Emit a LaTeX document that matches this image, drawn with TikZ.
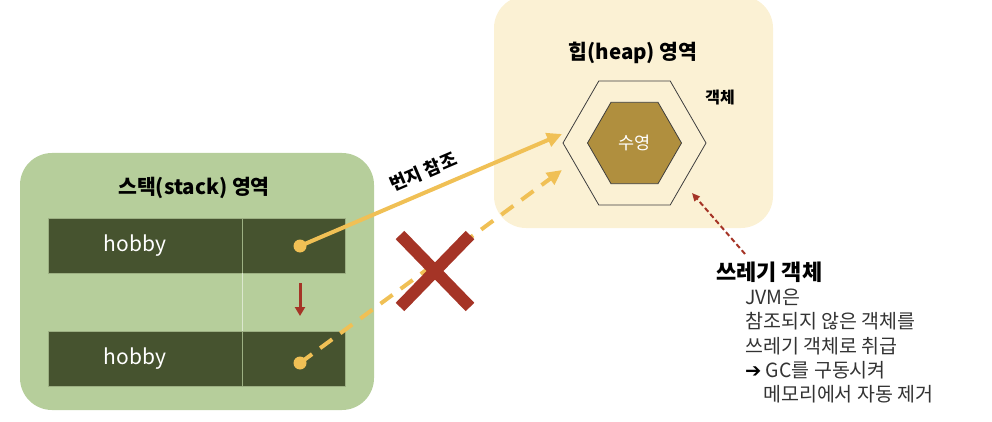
\documentclass[tikz,border=0pt]{standalone}
\usepackage{fontspec}
\setmainfont{Noto Sans CJK KR}
\newfontfamily\arrowfont{DejaVu Sans}
\usetikzlibrary{shapes.geometric,shapes.misc,arrows.meta,positioning}
\definecolor{stackbg}{HTML}{B6CE9B}
\definecolor{heapbg}{HTML}{FBF1D4}
\definecolor{rowdark}{HTML}{46532F}
\definecolor{rowline}{HTML}{9DB083}
\definecolor{gapline}{HTML}{DCE8CF}
\definecolor{hexfill}{HTML}{B08F3E}
\definecolor{hexline}{HTML}{3E3E3E}
\definecolor{refyellow}{HTML}{F0C055}
\definecolor{xred}{HTML}{A53426}
\definecolor{bodygray}{HTML}{333333}
\tikzstyle{areabox} = [rectangle, rounded corners=32pt, inner sep=0pt, outer sep=0pt]
\tikzstyle{areatitle} = [font=\bfseries\fontsize{20.5}{24}\selectfont, text=black]
\tikzstyle{rowcell} = [rectangle, fill=rowdark, draw=rowline, line width=0.8pt,
    inner sep=0pt, minimum height=55pt]
\tikzstyle{celltext} = [text=white, font=\fontsize{21}{24}\selectfont, inner sep=0pt]
\tikzstyle{refdot} = [circle, fill=refyellow, inner sep=0pt, minimum size=13pt]
\tikzstyle{refarrow} = [draw=refyellow, line width=4pt, -{Triangle[length=15pt,width=14pt]}]
\tikzstyle{hexbox} = [regular polygon, regular polygon sides=6, inner sep=0pt, outer sep=0pt]
\tikzstyle{garbarrow} = [draw=xred, line width=2pt, dash pattern=on 5pt off 3pt,
    -{Triangle[length=8pt,width=7pt]}]

\begin{document}
\begin{tikzpicture}[x=1pt, y=-1pt]
    \useasboundingbox (0,0) rectangle (992,422);
    % stack area
    \node[areabox, fill=stackbg, minimum width=354pt, minimum height=257pt] (stack) at (197,281.5) {};
    \node[areatitle] (stacktitle) at (194,188) {스택(stack) 영역};
    \node[rowcell, minimum width=194pt] (nameA) at (145,245.5) {};
    \node[rowcell, minimum width=103pt, right=0pt of nameA] (valA) {};
    \node[rowcell, minimum width=194pt] (nameB) at (145,358.5) {};
    \node[rowcell, minimum width=103pt, right=0pt of nameB] (valB) {};
    \node[celltext] (hobbyA) at ([xshift=-10pt]nameA.center) {hobby};
    \node[celltext] (hobbyB) at ([xshift=-10pt]nameB.center) {hobby};
    \draw[gapline, line width=0.8pt] (valA.south west) -- (valB.north west);
    \node[refdot] (dotA) at (300,246) {};
    \node[refdot] (dotB) at (300,363) {};
    \coordinate (moveA) at (300,283);
    \coordinate (moveB) at (300,316);
    \draw[xred, line width=3pt, -{Triangle[length=9pt,width=10pt]}] (moveA) -- (moveB);

    % heap area
    \node[areabox, fill=heapbg, minimum width=279pt, minimum height=232pt] (heap) at (633.5,112) {};
    \node[areatitle] (heaptitle) at (633,53) {힙(heap) 영역};
    \node[hexbox, draw=hexline, line width=0.8pt, minimum size=143pt] (hexout) at (634.5,143) {};
    \node[hexbox, fill=hexfill, draw=hexline, line width=0.8pt, minimum size=94pt,
        text=white, font=\fontsize{17.5}{20}\selectfont] (hexin) at (hexout.center) {수영};
    \node[font=\bfseries\fontsize{16}{18}\selectfont] (objlabel) at (720,98) {객체};

    % references
    \coordinate (tipA) at (562,134);
    \coordinate (tipB) at (562,170);
    \draw[refarrow] (dotA.center) -- node[sloped, above=6pt, pos=0.5,
        font=\bfseries\fontsize{18}{20}\selectfont] (reflabel) {번지 참조} (tipA);
    \draw[refarrow, dash pattern=on 15pt off 10pt] (dotB.center) -- (tipB);
    \node[cross out, draw=xred, line width=12pt, minimum width=58pt, minimum height=60pt,
        inner sep=0pt] (cross) at (435,271) {};

    % garbage object
    \coordinate (garbtail) at (745,254);
    \coordinate (garbtip) at (692,193);
    \draw[garbarrow] (garbtail) -- (garbtip);
    \node[anchor=west, inner sep=0pt, font=\bfseries\fontsize{22}{26}\selectfont] (garbtitle) at (716,272) {쓰레기 객체};
    \node[anchor=north west, align=left, inner sep=0pt, text=bodygray,
        font=\fontsize{19.5}{24.2}\selectfont] (garbnote) at (745,289) {JVM은\\참조되지 않은 객체를\\쓰레기 객체로 취급\\{\arrowfont\color{black}➔} GC를 구동시켜\\\hspace*{18pt}메모리에서 자동 제거};
\end{tikzpicture}
\end{document}
